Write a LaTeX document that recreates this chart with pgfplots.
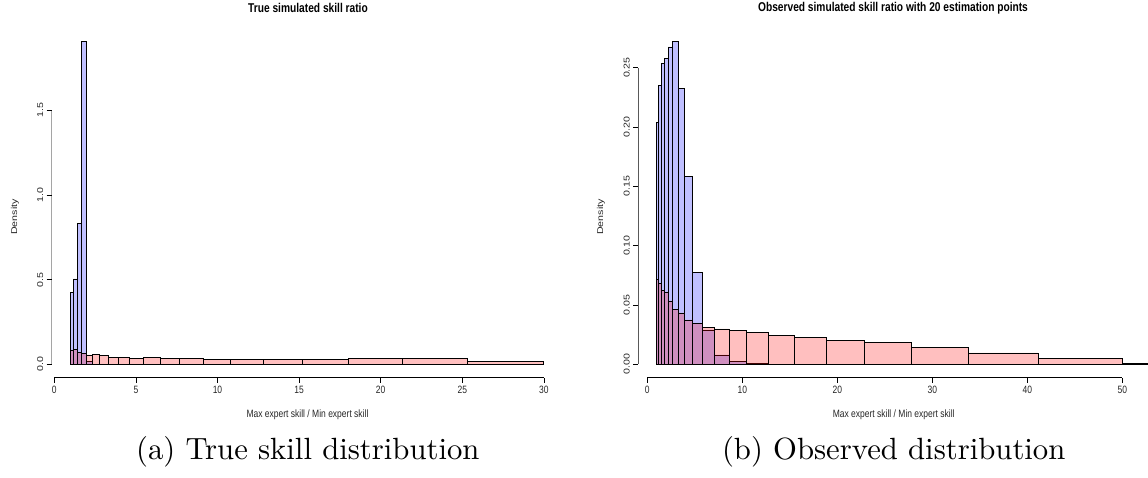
\documentclass[border=0pt]{standalone}
\usepackage{fontspec}
\usepackage{graphicx}
\usepackage{pgfplots}
\pgfplotsset{compat=1.18}
\newfontfamily\rfont{Liberation Sans}
\definecolor{hblue}{rgb}{0,0,1}
\definecolor{hred}{rgb}{1,0,0}
\newcommand{\hs}[1]{\scalebox{1}[1.25]{#1}}
\newcommand{\vs}[1]{\scalebox{1.25}[1]{#1}}
\begin{document}
\begin{tikzpicture}[x=1pt,y=1pt]
\useasboundingbox (0,0) rectangle (1148,478);
\pgfplotsset{
  rstyle/.style={
    scale only axis,
    axis line style={draw=none},
    tick align=outside,
    xtick pos=bottom, ytick pos=left,
    major tick length=5pt,
    tick style={black, line width=0.6pt},
    tick label style={font=\rfont\fontsize{8.5}{10}\selectfont, text=black!85},
    xticklabel style={anchor=north},
    yticklabel style={rotate=90, anchor=south},
    /pgf/number format/assume math mode=true,
    clip=true,
  },
  hb/.style={ybar interval, fill=hblue, fill opacity=0.25, draw=black, line width=0.8pt},
  hr/.style={ybar interval, fill=hred, fill opacity=0.25, draw=black, line width=0.8pt},
}
% ---------- left panel ----------
\begin{axis}[rstyle,
  at={(51.7pt,100.3pt)}, anchor=south west,
  width=508.5pt, height=343.5pt,
  xmin=-0.159, xmax=31, ymin=-0.0791, ymax=1.95,
  xtick={0,5,10,15,20,25,30}, xticklabels={\hs{0},\hs{5},\hs{10},\hs{15},\hs{20},\hs{25},\hs{30}},
  ytick={0,0.5,1,1.5}, yticklabels={\vs{0.0},\vs{0.5},\vs{1.0},\vs{1.5}}]
\addplot[hb] table {
x y
1.00000 0.425
1.18537 0.504
1.40510 0.833
1.66555 1.905
1.97427 0.015
2.34022 0
};
\addplot[hr] table {
x y
1.00000 0.085
1.18537 0.088
1.40510 0.069
1.66555 0.064
1.97427 0.055
2.34022 0.056
2.77401 0.051
3.28821 0.043
3.89771 0.040
4.62019 0.032
5.47723 0.039
6.49247 0.033
7.69592 0.033
9.12243 0.029
10.8134 0.029
12.8177 0.031
15.1937 0.031
18.0100 0.0335
21.3483 0.0335
25.3055 0.018
30.0000 0
};
\draw[black, line width=0.6pt] (axis cs:0,-0.0791) -- (axis cs:30,-0.0791);
\draw[black, line width=0.6pt] (axis cs:-0.159,0) -- (axis cs:-0.159,1.5);
\end{axis}
% ---------- right panel ----------
\begin{axis}[rstyle,
  at={(638.3pt,100.3pt)}, anchor=south west,
  width=509.7pt, height=345.7pt,
  xmin=-0.947, xmax=52.7, ymin=-0.01129, ymax=0.28,
  xtick={0,10,20,30,40,50}, xticklabels={\hs{0},\hs{10},\hs{20},\hs{30},\hs{40},\hs{50}},
  ytick={0,0.05,0.1,0.15,0.2,0.25}, yticklabels={\vs{0.00},\vs{0.05},\vs{0.10},\vs{0.15},\vs{0.20},\vs{0.25}}]
\addplot[hb] table {
x y
1.00000 0.2037
1.21604 0.2350
1.47876 0.2537
1.79826 0.2576
2.18672 0.2674
2.65915 0.2719
3.23364 0.2326
3.93224 0.1584
4.78176 0.0775
5.81483 0.0289
7.07107 0.0079
8.59868 0.0022
10.4564 0.0006
12.7155 0
};
\addplot[hr] table {
x y
1.00000 0.0716
1.21604 0.0683
1.47876 0.0626
1.79826 0.0610
2.18672 0.0534
2.65915 0.0461
3.23364 0.0433
3.93224 0.0374
4.78176 0.0345
5.81483 0.0309
7.07107 0.0298
8.59868 0.0284
10.4564 0.0267
12.7155 0.0240
15.4621 0.0225
18.8030 0.0204
22.8653 0.0183
27.8041 0.0141
33.8117 0.0096
41.1166 0.0050
50.0000 0.0008
60.8022 0
};
\draw[black, line width=0.6pt] (axis cs:0,-0.01129) -- (axis cs:50,-0.01129);
\draw[black, line width=0.6pt] (axis cs:-0.947,0) -- (axis cs:-0.947,0.25);
\end{axis}
% ---------- texts ----------
\begin{scope}[every node/.style={font=\rfont\fontsize{8.5}{10}\selectfont, text=black!85}]
\node at (307.5,63) {\hs{Max expert skill / Min expert skill}};
\node at (893.7,63) {\hs{Max expert skill / Min expert skill}};
\node[rotate=90] at (15,261) {\vs{Density}};
\node[rotate=90] at (601,261) {\vs{Density}};
\end{scope}
\node[font=\rfont\bfseries\fontsize{10.2}{12}\selectfont] at (308,470) {\hs{True simulated skill ratio}};
\node[font=\rfont\bfseries\fontsize{10.2}{12}\selectfont] at (893,470) {\hs{Observed simulated skill ratio with 20 estimation points}};
\node[anchor=base] at (307.8,18) {\scalebox{3.07}{\fontsize{10}{12}\selectfont (a) True skill distribution}};
\node[anchor=base] at (893.7,18) {\scalebox{3.07}{\fontsize{10}{12}\selectfont (b) Observed distribution}};
\end{tikzpicture}
\end{document}
